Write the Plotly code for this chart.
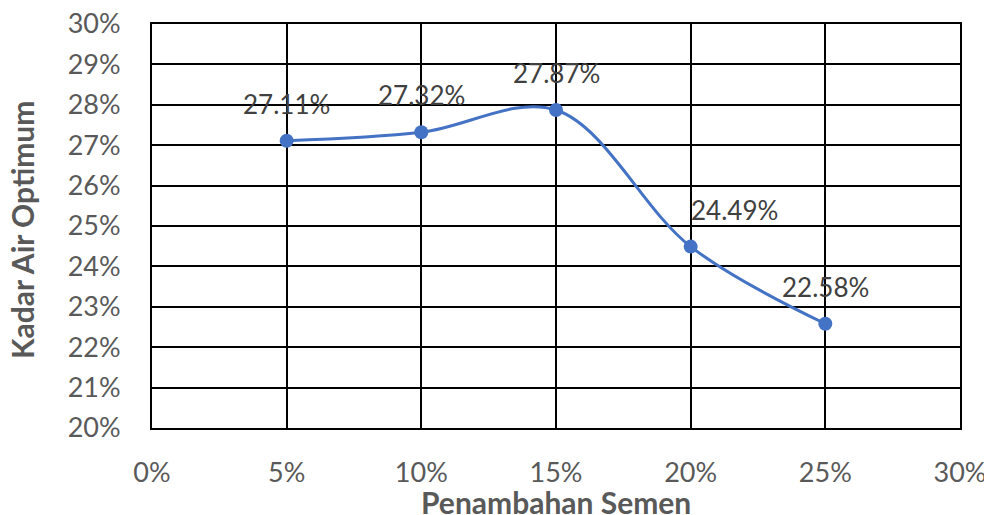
import plotly.graph_objects as go

x_vals = [0.05, 0.10, 0.15, 0.20, 0.25]
y_vals = [0.2711, 0.2732, 0.2787, 0.2449, 0.2258]
labels = ["27.11%", "27.32%", "27.87%", "24.49%", "22.58%"]
label_dx = [0, 0, 0, 44, 0]

x_ticks = [0, 0.05, 0.10, 0.15, 0.20, 0.25, 0.30]
x_ticktext = ["0%", "5%", "10%", "15%", "20%", "25%", "30%"]
y_ticks = [0.20 + i * 0.01 for i in range(11)]
y_ticktext = [f"{20 + i}%" for i in range(11)]
x_title = "Penambahan Semen"
y_title = "Kadar Air Optimum"

FONT = "Lato"
GREY = "#595959"
BLUE = "#4472C4"

fig = go.Figure()
fig.add_trace(go.Scatter(
    x=x_vals, y=y_vals, mode="lines+markers",
    line=dict(color=BLUE, width=3, shape="spline", smoothing=1.0),
    marker=dict(color=BLUE, size=14),
    hoverinfo="skip", showlegend=False,
))

for xv, yv, t, dx in zip(x_vals, y_vals, labels, label_dx):
    fig.add_annotation(x=xv, y=yv, text=t, showarrow=False, xref="x", yref="y",
                       xshift=dx, yshift=37, font=dict(family=FONT, size=26, color="#404040"))

# axis titles as annotations so they can sit where the reference has them
fig.add_annotation(x=0.5, y=0, xref="paper", yref="paper", text=f"<b>{x_title}</b>",
                   showarrow=False, xanchor="center", yanchor="middle", yshift=-74,
                   font=dict(family=FONT, size=30, color=GREY))
fig.add_annotation(x=0, y=0.5, xref="paper", yref="paper", text=f"<b>{y_title}</b>",
                   showarrow=False, xanchor="center", yanchor="middle", xshift=-130, yshift=-4,
                   textangle=-90, font=dict(family=FONT, size=30, color=GREY))

# page body has an 8px default margin; compensate so the plot lands where the reference has it
fig.update_layout(
    width=984, height=507,
    margin=dict(l=144, r=32, t=16, b=87, autoexpand=False),
    paper_bgcolor="white", plot_bgcolor="white",
    font=dict(family=FONT, color=GREY, size=27),
    xaxis=dict(range=[0, 0.30], tickvals=x_ticks, ticktext=x_ticktext,
               showgrid=True, gridcolor="black", gridwidth=1.5,
               showline=True, linecolor="black", linewidth=2, mirror=True,
               zeroline=False, ticks="", ticklabelstandoff=20, automargin=False,
               ticklabeloverflow="allow",
               tickfont=dict(family=FONT, size=27, color=GREY)),
    yaxis=dict(range=[0.20, 0.30], tickvals=y_ticks, ticktext=y_ticktext,
               showgrid=True, gridcolor="black", gridwidth=1.5,
               showline=True, linecolor="black", linewidth=2, mirror=True,
               zeroline=False, ticks="", ticklabelstandoff=24, automargin=False,
               ticklabeloverflow="allow",
               tickfont=dict(family=FONT, size=27, color=GREY)),
)

fig.write_html("out.html")
